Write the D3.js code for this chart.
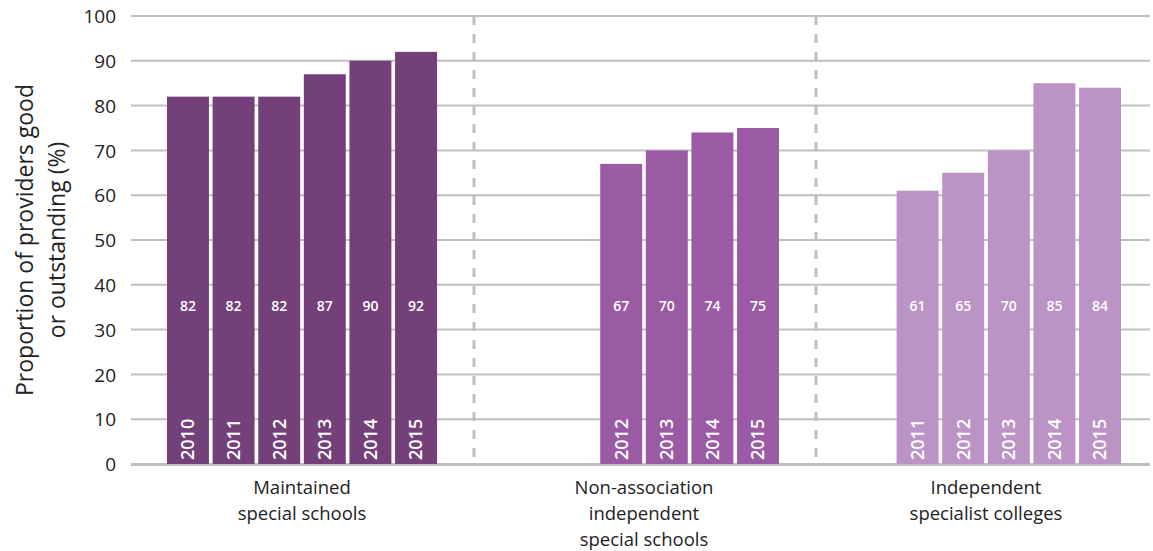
<!DOCTYPE html>
<html>
  <head>
    <meta charset="utf-8">
    <title>Providers good or outstanding</title>
    <script src="https://d3js.org/d3.v7.min.js"></script>
    <style>
      body { margin: 0; background: #fff; }
      text { font-family: 'Open Sans', 'Noto Sans', sans-serif; }
    </style>
  </head>
  <body>
    <script>
      // data
      var groups = ["Maintained special schools", "Non-association independent special schools", "Independent specialist colleges"];
      var groupLines = [["Maintained", "special schools"], ["Non-association", "independent", "special schools"], ["Independent", "specialist colleges"]];
      var years = ["2010", "2011", "2012", "2013", "2014", "2015"];
      var maintainedYears = ["2010", "2011", "2012", "2013", "2014", "2015"];
      var maintainedValues = [82, 82, 82, 87, 90, 92];
      var nonAssocYears = ["2012", "2013", "2014", "2015"];
      var nonAssocValues = [67, 70, 74, 75];
      var collegeYears = ["2011", "2012", "2013", "2014", "2015"];
      var collegeValues = [61, 65, 70, 85, 84];
      var yTicks = [0, 10, 20, 30, 40, 50, 60, 70, 80, 90, 100];
      var colours = ["#74407a", "#9a5aa4", "#bb93c5"];

      var series = [
        { group: groups[0], years: maintainedYears, values: maintainedValues },
        { group: groups[1], years: nonAssocYears, values: nonAssocValues },
        { group: groups[2], years: collegeYears, values: collegeValues }
      ];

      var width = 1153, height = 551;
      // note: "top" is taken by window.top, so use plot* names
      var plotLeft = 131, plotRight = 1157, plotTop = 16, plotBottom = 464;

      var svg = d3.select("body").append("svg")
        .attr("width", width)
        .attr("height", height);

      var y = d3.scaleLinear().domain([0, 100]).range([plotBottom, plotTop]);
      var x0 = d3.scaleBand().domain(groups).range([plotLeft, plotRight]);
      var x1 = d3.scaleBand().domain(years)
        .range([36, x0.bandwidth() - 36])
        .paddingInner(0.08);

      // gridlines
      svg.append("g").selectAll("line")
        .data(yTicks)
        .enter().append("line")
        .attr("x1", plotLeft)
        .attr("x2", 1150)
        .attr("y1", function(d) { return y(d); })
        .attr("y2", function(d) { return y(d); })
        .attr("stroke", "#bfbfbf")
        .attr("stroke-width", 2);

      // y axis labels
      var yAxis = d3.axisLeft(y).tickValues(yTicks).tickSize(0).tickPadding(0);
      var ya = svg.append("g")
        .attr("transform", "translate(116,0)")
        .call(yAxis);
      ya.select(".domain").remove();
      ya.selectAll("text")
        .attr("font-size", 19)
        .attr("fill", "#222")
        .attr("dy", "0.35em")
        .style("font-family", "'Open Sans', sans-serif");

      // separators
      svg.append("g").selectAll("line")
        .data(groups.slice(1))
        .enter().append("line")
        .attr("x1", function(d) { return x0(d) + 1; })
        .attr("x2", function(d) { return x0(d) + 1; })
        .attr("y1", plotTop)
        .attr("y2", plotBottom)
        .attr("stroke", "#bfbfbf")
        .attr("stroke-width", 3)
        .attr("stroke-dasharray", "9,9");

      // bars
      series.forEach(function(s, gi) {
        var g = svg.append("g")
          .attr("transform", "translate(" + x0(s.group) + ",0)");
        var rows = s.years.map(function(yr, i) { return { year: yr, value: s.values[i] }; });

        g.selectAll("rect")
          .data(rows)
          .enter().append("rect")
          .attr("x", function(d) { return x1(d.year); })
          .attr("width", x1.bandwidth())
          .attr("y", function(d) { return y(d.value); })
          .attr("height", function(d) { return plotBottom - y(d.value); })
          .attr("fill", colours[gi]);

        g.selectAll("text.val")
          .data(rows)
          .enter().append("text")
          .attr("class", "val")
          .attr("x", function(d) { return x1(d.year) + x1.bandwidth() / 2; })
          .attr("y", 306)
          .attr("dy", "0.35em")
          .attr("text-anchor", "middle")
          .attr("font-size", 14)
          .attr("font-weight", 600)
          .attr("fill", "#fff")
          .text(function(d) { return d.value; });

        g.selectAll("text.yr")
          .data(rows)
          .enter().append("text")
          .attr("class", "yr")
          .attr("transform", function(d) {
            return "translate(" + (x1(d.year) + x1.bandwidth() / 2) + "," + (plotBottom - 4) + ") rotate(-90)";
          })
          .attr("dy", "0.35em")
          .attr("font-size", 18)
          .attr("font-weight", 600)
          .attr("fill", "#fff")
          .text(function(d) { return d.year; });
      });

      // baseline
      svg.append("line")
        .attr("x1", plotLeft).attr("x2", 1150)
        .attr("y1", plotBottom + 1).attr("y2", plotBottom + 1)
        .attr("stroke", "#bfbfbf")
        .attr("stroke-width", 2);

      // group labels
      groups.forEach(function(gname, gi) {
        var t = svg.append("text")
          .attr("x", x0(gname) + x0.bandwidth() / 2)
          .attr("y", 488)
          .attr("text-anchor", "middle")
          .attr("font-size", 18.5)
          .attr("fill", "#222");
        groupLines[gi].forEach(function(line, li) {
          t.append("tspan")
            .attr("x", x0(gname) + x0.bandwidth() / 2)
            .attr("y", 488 + li * 26)
            .attr("dy", "0.35em")
            .text(line);
        });
      });

      // y axis title
      var title = svg.append("text")
        .attr("transform", "translate(25,240) rotate(-90)")
        .attr("text-anchor", "middle")
        .attr("font-size", 23)
        .attr("fill", "#222");
      title.append("tspan").attr("x", 0).attr("dy", "0.35em").text("Proportion of providers good");
      title.append("tspan").attr("x", 0).attr("dy", 32).text("or outstanding (%)");
    </script>
  </body>
</html>
